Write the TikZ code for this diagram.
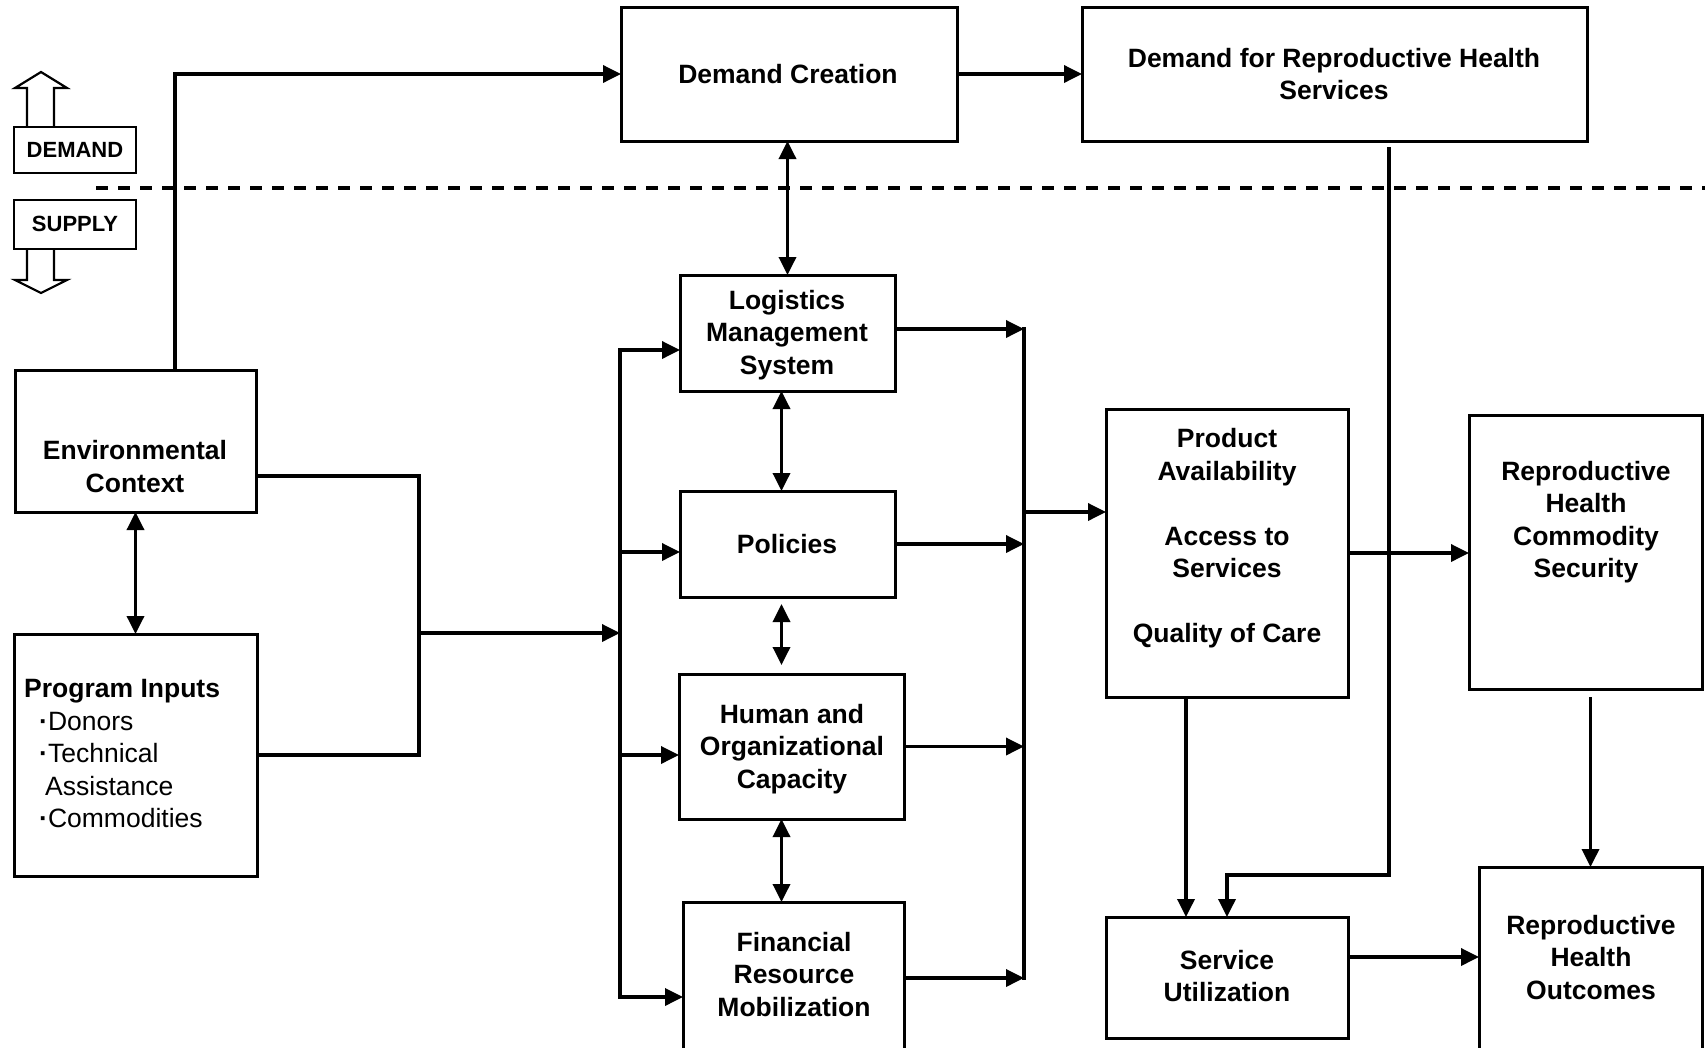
\documentclass[tikz,border=0pt]{standalone}
\usepackage{fontspec}
\setmainfont{Liberation Sans}
\usetikzlibrary{arrows.meta,fit,calc}
\newcommand\zs{\rule[-6.75pt]{0pt}{32.5pt}}
\newcommand\bdot{\textbf{·}}
\begin{document}
\begin{tikzpicture}[x=1pt,y=-1pt,
  box/.style={draw, line width=3pt, inner sep=0pt, outer sep=0pt, rectangle},
  lbl/.style={font=\fontsize{26.5}{32.5}\selectfont\bfseries, align=center, inner sep=0pt},
  ln/.style={line width=3.5pt},
  arr/.style={ln, -{Triangle[length=18pt,width=17pt]}},
  darr/.style={ln, {Triangle[length=18pt,width=17pt]}-{Triangle[length=18pt,width=17pt]}},
  blockarrow/.style={draw, line width=2.2pt, fill=white, line join=miter},
]
\useasboundingbox (0,0) rectangle (1705,1047);
\fill[white] (0,0) rectangle (1705,1047);
\clip (0,0) rectangle (1705,1047);

% DEMAND / SUPPLY markers
\draw[blockarrow] (27,128) -- (27,88) -- (15,88) -- (41,72) -- (67,88) -- (54,88) -- (54,128);
\draw[blockarrow] (27,248) -- (27,280) -- (15,280) -- (41,293) -- (67,280) -- (54,280) -- (54,248);
\node[box, line width=2.5pt, fill=white, fit={(14,127) (136,173)}] (demb) {};
\node[box, line width=2.5pt, fill=white, fit={(14,200) (136,249)}] (supb) {};
\node[font=\fontsize{22}{24}\selectfont\bfseries, inner sep=0pt] (demt) at (75,150) {DEMAND};
\node[font=\fontsize{22}{24}\selectfont\bfseries, inner sep=0pt] (supt) at (75,224) {SUPPLY};

% dashed divider
\draw[line width=3.5pt, dash pattern=on 12pt off 10pt] (96,188) -- (1705,188);

% boxes
\node[box, fit={(621,7) (957,141)}] (dc) {};
\node[box, fit={(1082,7) (1587,141)}] (drh) {};
\node[box, fit={(15,370) (256,512)}] (env) {};
\node[box, fit={(14,634) (257,876)}] (pi) {};
\node[box, fit={(680,275) (895,391)}] (lms) {};
\node[box, fit={(680,491) (895,597)}] (pol) {};
\node[box, fit={(679,674) (904,819)}] (hoc) {};
\node[box, fit={(683,902) (904,1060)}] (frm) {};
\node[box, fit={(1106,409) (1348,697)}] (pa) {};
\node[box, fit={(1469,415) (1702,689)}] (rhcs) {};
\node[box, fit={(1106,917) (1348,1038)}] (su) {};
\node[box, fit={(1479,867) (1702,1060)}] (rho) {};

% texts
\node[lbl] (dct) at (788,74) {\zs Demand Creation};
\node[lbl] (drht) at (1334,74) {\zs Demand for Reproductive Health\\\zs Services};
\node[lbl] (envt) at (135,466.5) {\zs Environmental\\\zs Context};
\node[lbl] (lmst) at (787,332) {\zs Logistics\\\zs Management\\\zs System};
\node[lbl] (polt) at (787,544) {\zs Policies};
\node[lbl] (hoct) at (792,746) {\zs Human and\\\zs Organizational\\\zs Capacity};
\node[lbl] (frmt) at (794,974) {\zs Financial\\\zs Resource\\\zs Mobilization};
\node[lbl] (pat) at (1227,535.5) {\zs Product\\\zs Availability\\\zs\\\zs Access to\\\zs Services\\\zs\\\zs Quality of Care};
\node[lbl] (rhcst) at (1586,519.5) {\zs Reproductive\\\zs Health\\\zs Commodity\\\zs Security};
\node[lbl] (sut) at (1227,976) {\zs Service\\\zs Utilization};
\node[lbl] (rhot) at (1591,957) {\zs Reproductive\\\zs Health\\\zs Outcomes};
\node[anchor=north west, align=left, inner sep=0pt, font=\fontsize{26.5}{32.5}\selectfont] (pit) at (24,672)
  {\zs\textbf{Program Inputs}\\\zs\hspace*{15pt}\bdot Donors\\\zs\hspace*{15pt}\bdot Technical\\\zs\hspace*{21pt}Assistance\\\zs\hspace*{15pt}\bdot Commodities};

% connectors: top
\draw[arr] ($(env.north)+(39.5,0)$) |- (dc.west);
\draw[arr] (dc.east) -- (drh.west);
\draw[darr] (lms.north |- dc.south) -- (lms.north);
\draw[darr] (env.south) -- (pi.north);

% environment / inputs junction
\coordinate (jm) at (419,633);
\draw[ln] ($(env.east)+(0,35)$) -| (jm) |- (pi.east);
\coordinate (lb1) at (620,350);
\coordinate (lb2) at (620,552);
\coordinate (lb3) at (620,755);
\coordinate (lb4) at (620,997);
\draw[arr] (jm) -- (jm -| lb1);
\draw[darr] (lb1 -| lms.west) -- (lb1) -- (lb4) -- (lb4 -| frm.west);
\draw[arr] (lb2) -- (lb2 -| pol.west);
\draw[arr] (lb3) -- (lb3 -| hoc.west);

% vertical links between supply boxes
\coordinate (px) at ($(lms.south)+(-6,0)$);
\draw[darr] (px |- lms.south) -- (px |- pol.north);
\draw[darr, shorten <=7pt, shorten >=9pt] (px |- pol.south) -- (px |- hoc.north);
\draw[darr] (px |- hoc.south) -- (px |- frm.north);

% right bus
\coordinate (rb1) at (1024,329);
\coordinate (rbm) at (1024,512);
\coordinate (rb4) at (1024,978);
\draw[ln, line cap=rect] (rb1) -- (rb4);
\draw[arr] (lms.east |- rb1) -- (rb1);
\draw[arr] (pol.east) -- (pol.east -| rb1);
\draw[arr] (hoc.east) -- (hoc.east -| rb1);
\draw[arr] (frm.east |- rb4) -- (rb4);
\draw[arr] (rbm) -- (rbm -| pa.west);

% outcomes
\draw[arr] (pa.east) -- (pa.east -| rhcs.west);
\coordinate (dturn) at (1389,875);
\draw[arr, shorten <=6pt] ($(drh.south)+(54.5,0)$) -- (dturn) -| (su.north);
\coordinate (pax) at ($(pa.south)+(-41,0)$);
\draw[arr] (pax) -- (pax |- su.north);
\draw[arr, shorten <=8pt] (rho.north |- rhcs.south) -- (rho.north);
\coordinate (suo) at ($(su.east)+(0,-20.5)$);
\draw[arr] (suo) -- (suo -| rho.west);
\end{tikzpicture}
\end{document}
